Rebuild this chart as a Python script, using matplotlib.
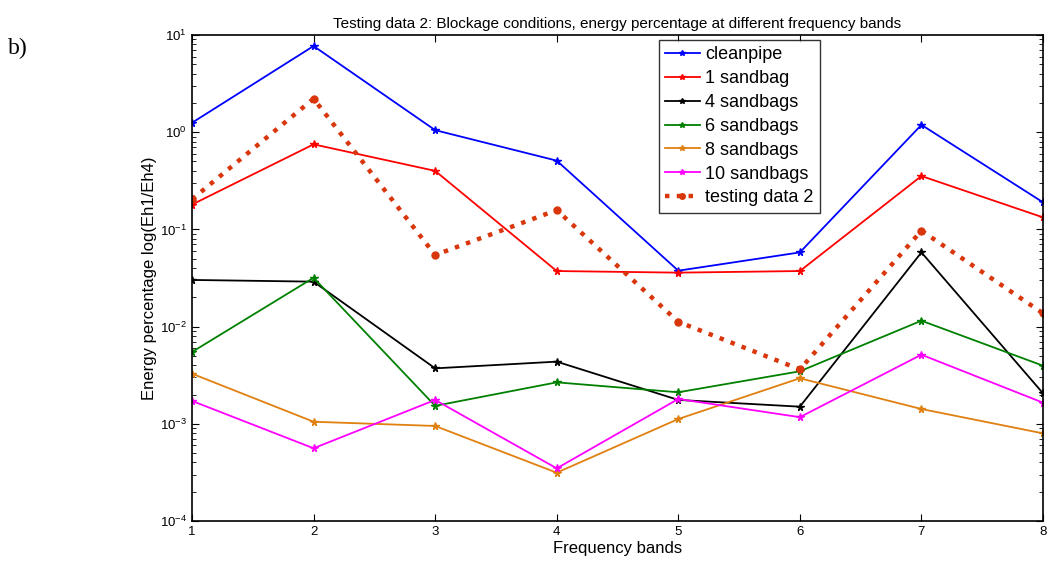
import matplotlib
matplotlib.use("Agg")
import matplotlib.pyplot as plt
from matplotlib.ticker import LogLocator

plt.rcParams['font.family'] = ['Liberation Sans', 'DejaVu Sans']
plt.rcParams['mathtext.fontset'] = 'custom'
plt.rcParams['mathtext.rm'] = 'Liberation Sans'

bands = [1, 2, 3, 4, 5, 6, 7, 8]
cleanpipe = [1.25, 7.7, 1.05, 0.51, 0.0376, 0.058, 1.19, 0.19]
sandbag_1 = [0.18, 0.75, 0.40, 0.0373, 0.0359, 0.0373, 0.354, 0.133]
sandbags_4 = [0.0302, 0.029, 0.00372, 0.00436, 0.00176, 0.0015, 0.058, 0.00206]
sandbags_6 = [0.00548, 0.0318, 0.00153, 0.00267, 0.00211, 0.00347, 0.0115, 0.00396]
sandbags_8 = [0.00328, 0.00105, 0.00095, 0.000314, 0.00112, 0.00294, 0.00142, 0.000797]
sandbags_10 = [0.00172, 0.00056, 0.00176, 0.000348, 0.0018, 0.00117, 0.00514, 0.00165]
testing_2 = [0.204, 2.21, 0.0545, 0.158, 0.0112, 0.00363, 0.097, 0.0137]

series = [
    ("cleanpipe", cleanpipe, "#0000ff"),
    ("1 sandbag", sandbag_1, "#ff0000"),
    ("4 sandbags", sandbags_4, "#000000"),
    ("6 sandbags", sandbags_6, "#008000"),
    ("8 sandbags", sandbags_8, "#e08010"),
    ("10 sandbags", sandbags_10, "#ff00ff"),
]

fig = plt.figure(figsize=(10.5, 5.62), dpi=100)
ax = fig.add_axes([192/1050, 1-521/562, (1043-192)/1050, (521-35)/562])

for name, vals, col in series:
    ax.plot(bands, vals, '-', marker='*', color=col, lw=1.3, ms=5.5, label=name)
ax.plot(bands, testing_2, ':', marker='o', color='#d9360c', lw=3.2, ms=5,
        label='testing data 2')

ax.set_yscale('log')
ax.set_ylim(1e-4, 10)
ax.set_xlim(1, 8)
ax.set_xticks(bands)
ax.yaxis.set_major_locator(LogLocator(base=10, numticks=10))
ax.yaxis.set_minor_locator(LogLocator(base=10, subs=range(2, 10), numticks=50))
ax.tick_params(which='both', direction='in', top=True, right=True, labelsize=9.5)
ax.tick_params(which='major', length=5, width=0.8)
ax.tick_params(which='minor', length=3, width=0.6)
for s in ax.spines.values():
    s.set_linewidth(1.2)

ax.set_title('Testing data 2: Blockage conditions, energy percentage at different frequency bands',
             fontsize=11, pad=5)
ax.set_xlabel('Frequency bands', fontsize=12, labelpad=2)
ax.set_ylabel('Energy percentage log(Eh1/Eh4)', fontsize=12, labelpad=2)

leg = ax.legend(loc='upper left', bbox_to_anchor=((659-192)/851, 1-(40-35)/486),
                fontsize=13, frameon=True, fancybox=False, edgecolor='black',
                handlelength=1.9, handletextpad=0.3, labelspacing=0.38,
                borderpad=0.35, borderaxespad=0, markerscale=0.8)
leg.get_frame().set_linewidth(1.0)

fig.text(8/1050, 1-48/562, 'b)', fontsize=17, family='Liberation Serif', va='center')

fig.savefig('out.png', dpi=100)
